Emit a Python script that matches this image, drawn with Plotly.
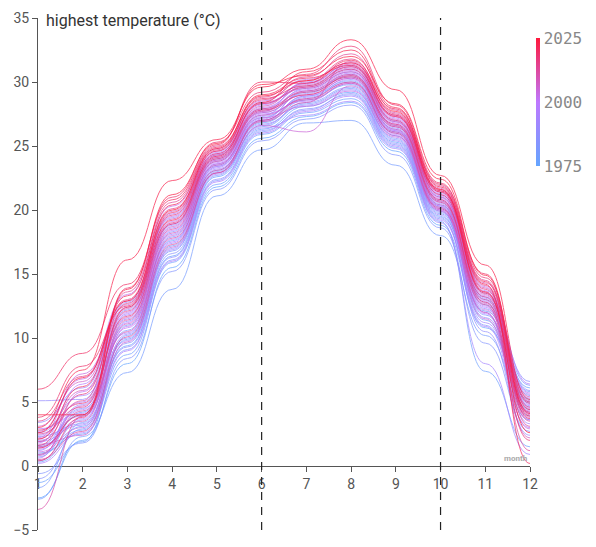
import plotly.graph_objects as go
from plotly.colors import sample_colorscale

years = list(range(1975, 2026))
months = [1, 2, 3, 4, 5, 6, 7, 8, 9, 10, 11, 12]

# monthly highest temperature per year (1975..2025)
jan = [-2.5, 0.3, -1.3, 1.0, 0.7, -2.6, -1.7, 1.5, 0.9, -0.6, -1.0, 0.4, 1.6, 2.3, 5.1, 3.4, 1.2, 2.6, 2.0, 1.4,
       1.9, 0.2, 2.4, 1.8, 2.9, 1.3, 0.6, 2.7, 1.1, 2.2, 1.7, 0.8, 3.1, 1.5, 2.1, 0.9, -3.4, 0.5, 1.9, 2.5,
       3.5, 1.6, 2.8, 0.4, 3.8, 6.0, 2.1, 1.4, 3.0, 4.0, 2.6]
feb = [2.0, 3.1, 1.9, 2.5, 4.2, 2.3, 3.4, 4.0, 2.8, 1.8, 2.9, 3.6, 4.5, 3.3, 5.2, 6.1, 4.8, 5.5, 3.9, 4.4,
       3.2, 2.6, 5.0, 6.4, 4.1, 3.7, 5.8, 6.8, 3.0, 7.2, 2.4, 4.7, 6.6, 3.5, 5.9, 4.3, 3.9, 2.7, 5.1, 4.6,
       7.0, 5.6, 4.9, 3.8, 7.8, 8.8, 6.2, 4.0, 7.5, 4.0, 6.9]
mar = [8.0, 9.4, 10.2, 8.7, 11.0, 7.3, 9.9, 10.6, 9.1, 8.4, 9.6, 11.3, 10.0, 9.3, 12.2, 12.8, 11.5, 10.4, 9.8, 11.8,
       10.3, 9.0, 11.9, 12.4, 11.2, 10.8, 12.0, 13.4, 10.9, 12.6, 9.7, 11.6, 12.9, 11.1, 12.3, 10.5, 11.4, 10.1, 13.6, 12.1,
       13.0, 12.7, 11.7, 13.9, 12.5, 14.2, 13.3, 12.4, 16.1, 13.8, 12.9]
apr = [15.5, 16.4, 17.2, 15.9, 17.6, 13.8, 16.8, 17.9, 16.1, 15.2, 16.6, 18.3, 17.0, 16.3, 18.8, 19.4, 18.1, 17.4, 16.9, 18.6,
       17.7, 16.0, 18.9, 19.7, 18.4, 17.5, 19.1, 20.3, 18.0, 19.5, 17.1, 18.7, 19.9, 18.2, 19.3, 17.8, 18.5, 17.3, 20.6, 19.0,
       20.1, 19.6, 18.9, 21.0, 19.8, 20.8, 20.4, 19.2, 22.3, 21.2, 20.0]
may = [21.8, 22.6, 23.1, 22.0, 23.4, 21.1, 22.9, 23.5, 22.3, 21.6, 22.7, 23.8, 23.0, 22.4, 24.0, 24.3, 23.6, 23.2, 22.8, 23.9,
       23.3, 22.2, 24.1, 24.5, 23.7, 23.4, 24.2, 24.8, 23.6, 24.4, 22.9, 23.9, 24.6, 23.5, 24.3, 23.1, 23.8, 22.9, 25.0, 24.1,
       24.7, 24.4, 24.0, 25.3, 24.6, 25.1, 24.9, 24.2, 25.5, 25.2, 24.8]
jun = [25.6, 26.3, 26.8, 25.9, 27.0, 24.7, 26.5, 27.2, 26.1, 25.4, 26.6, 27.4, 26.9, 26.2, 27.6, 27.9, 27.3, 26.7, 26.4, 27.7,
       27.1, 26.0, 27.8, 28.2, 27.5, 27.0, 28.0, 28.5, 27.2, 28.3, 26.6, 27.6, 28.4, 27.4, 28.1, 26.9, 27.7, 27.0, 28.8, 27.9,
       28.6, 28.3, 27.8, 29.2, 28.7, 30.0, 29.0, 28.4, 29.6, 29.8, 28.9]
jul = [27.3, 28.1, 28.6, 27.6, 28.9, 26.8, 28.3, 29.2, 27.9, 27.1, 28.4, 29.5, 28.8, 27.8, 29.1, 29.7, 28.7, 28.2, 27.4, 30.0,
       29.3, 27.7, 29.4, 29.9, 28.5, 28.9, 29.6, 30.2, 28.1, 29.8, 26.1, 29.0, 29.5, 28.6, 29.9, 28.4, 29.3, 28.7, 30.4, 29.2,
       30.1, 29.6, 29.0, 30.6, 29.7, 29.9, 30.3, 30.8, 31.0, 30.5, 30.1]
aug = [28.4, 29.2, 29.8, 28.7, 30.1, 27.0, 29.5, 30.4, 29.0, 28.2, 29.6, 30.8, 30.0, 29.1, 30.6, 31.0, 30.2, 29.4, 28.5, 31.3,
       30.5, 28.9, 30.7, 31.2, 29.9, 30.3, 30.9, 31.5, 29.3, 31.1, 29.7, 30.3, 30.8, 29.9, 31.4, 31.6, 30.6, 30.0, 32.2, 30.4,
       31.8, 31.0, 30.5, 32.8, 31.2, 31.7, 31.3, 32.5, 33.3, 32.0, 31.5]
sep = [24.6, 25.3, 25.8, 24.9, 26.1, 23.5, 25.5, 26.3, 25.1, 24.3, 25.6, 26.6, 26.0, 25.2, 26.4, 26.9, 26.2, 25.4, 24.8, 27.0,
       26.5, 25.0, 26.7, 27.2, 25.9, 26.2, 26.8, 27.4, 25.7, 27.1, 25.8, 26.3, 26.9, 26.1, 27.3, 27.6, 26.6, 26.0, 27.8, 26.5,
       27.5, 27.0, 26.7, 28.2, 27.3, 27.9, 27.4, 28.0, 29.4, 28.3, 27.7]
oct_ = [18.8, 19.5, 19.9, 19.1, 20.3, 18.0, 19.7, 20.4, 19.3, 18.6, 19.8, 20.7, 20.1, 19.4, 20.5, 21.0, 20.2, 19.6, 19.0, 21.1,
        20.6, 19.2, 20.8, 21.3, 20.0, 20.3, 20.9, 21.5, 19.9, 21.2, 20.0, 20.4, 21.0, 20.2, 21.4, 21.7, 20.7, 20.1, 21.9, 20.6,
        21.6, 21.2, 20.8, 22.1, 21.4, 22.0, 21.5, 21.8, 22.7, 22.4, 21.6]
nov = [10.8, 12.1, 11.4, 7.4, 12.6, 10.2, 11.8, 13.0, 11.0, 9.6, 12.3, 13.2, 11.6, 10.5, 12.8, 13.5, 12.0, 11.2, 8.0, 13.1,
       12.5, 10.9, 12.9, 13.7, 11.9, 12.4, 13.3, 14.0, 12.2, 13.6, 11.5, 12.7, 13.4, 12.0, 13.9, 14.3, 13.0, 12.6, 14.5, 13.2,
       14.1, 13.8, 12.8, 14.7, 13.5, 15.0, 14.2, 14.4, 15.7, 14.9, 13.6]
dec = [5.2, 6.1, 4.4, 1.5, 5.8, 3.6, 4.9, 6.3, 3.9, 2.7, 5.5, 6.6, 4.7, 2.4, 5.0, 5.9, 3.3, 4.2, 0.9, 5.6,
       4.6, 3.0, 5.3, 6.4, 4.1, 4.8, 5.7, 3.6, 4.3, 5.1, 2.9, 4.5, 3.8, 2.2, 4.0, 5.4, 3.5, 1.2, 4.6, 3.1,
       4.9, 4.2, 2.0, 5.0, 3.7, 4.4, 0.2, 3.9, 5.2, 4.1, 2.6]

x_ticks = [1, 2, 3, 4, 5, 6, 7, 8, 9, 10, 11, 12]
y_ticks = [-5, 0, 5, 10, 15, 20, 25, 30, 35]
marked_months = [6, 10]
year_ticks = [1975, 2000, 2025]

colorscale = [[0.0, "rgb(100,165,255)"], [0.5, "rgb(190,120,255)"], [1.0, "rgb(255,25,60)"]]

monthly = [jan, feb, mar, apr, may, jun, jul, aug, sep, oct_, nov, dec]

fig = go.Figure()

shapes = []
for i, yr in enumerate(years):
    vals = [m[i] for m in monthly]
    t = (yr - years[0]) / (years[-1] - years[0])
    col = sample_colorscale(colorscale, [t])[0]
    # bump-x curve: horizontal tangents at each monthly point
    path = f"M {months[0]},{vals[0]}"
    for k in range(1, len(months)):
        xm = (months[k - 1] + months[k]) / 2
        path += f" C {xm},{vals[k-1]} {xm},{vals[k]} {months[k]},{vals[k]}"
    shapes.append(dict(type="path", path=path, xref="x", yref="y",
                       line=dict(color=col, width=1), opacity=0.7, layer="above"))

for mm in marked_months:
    shapes.append(dict(type="line", xref="x", yref="y", x0=mm, x1=mm, y0=y_ticks[0], y1=y_ticks[-1],
                       line=dict(color="#222", width=1.2, dash="8px,7px"), layer="above"))

# colour legend trace
fig.add_trace(go.Scatter(
    x=[None, None], y=[None, None], mode="markers", showlegend=False, hoverinfo="skip",
    marker=dict(color=[years[0], years[-1]], cmin=years[0], cmax=years[-1], colorscale=colorscale,
                showscale=True,
                colorbar=dict(thickness=4, len=128, lenmode="pixels", outlinewidth=0,
                              xref="container", x=536 / 596, xanchor="left",
                              yref="container", y=1 - 41 / 547, yanchor="top",
                              tickvals=year_ticks, ticktext=[str(v) for v in year_ticks],
                              ticks="", xpad=0, ypad=0,
                              tickfont=dict(family="DejaVu Sans Mono", size=16, color="#888")))
))

fig.update_layout(
    width=596, height=547,
    margin=dict(l=38, r=66, t=18, b=17, autoexpand=False),
    paper_bgcolor="white", plot_bgcolor="white",
    shapes=shapes,
    showlegend=False,
    font=dict(family="Roboto", color="#555"),
    xaxis=dict(range=[1, 12], tickvals=x_ticks, showgrid=False, zeroline=False,
               showline=True, linecolor="#555", linewidth=1,
               ticks="outside", ticklen=5, tickcolor="#555",
               anchor="free", position=5 / 40, automargin=False,
               tickfont=dict(size=14, color="#555")),
    yaxis=dict(range=[-5, 35], tickvals=y_ticks, showgrid=False, zeroline=False,
               showline=True, linecolor="#555", linewidth=1,
               ticks="outside", ticklen=5, tickcolor="#555", automargin=False,
               tickfont=dict(size=14, color="#555")),
    annotations=[
        dict(text="highest temperature (°C)", xref="paper", yref="y", x=0, y=35,
             xanchor="left", yanchor="middle", xshift=6, yshift=-2, showarrow=False,
             font=dict(size=16, color="#333", family="Roboto")),
        dict(text="<b>month</b>", xref="x", yref="y", x=12, y=0, xanchor="right", yanchor="bottom",
             showarrow=False, yshift=1, font=dict(size=8, color="#aaa")),
    ],
)

fig.write_html("out.html")
